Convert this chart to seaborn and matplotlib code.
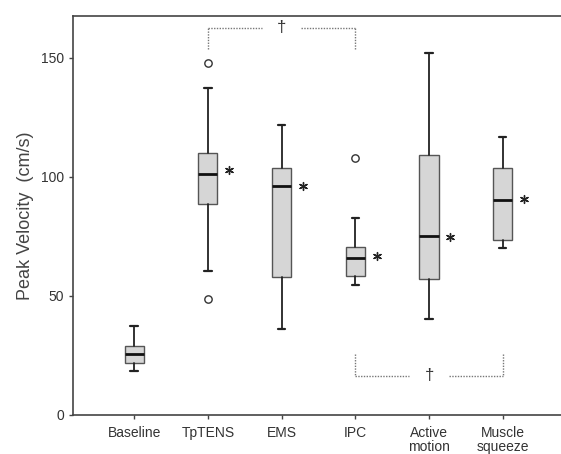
import matplotlib
matplotlib.use("Agg")
import matplotlib.pyplot as plt
import seaborn as sns
import pandas as pd

# five-number summaries (cm/s)
groups = ["Baseline", "TpTENS", "EMS", "IPC", "Active\nmotion", "Muscle\nsqueeze"]
whis_lo = [18.5, 60.6, 36.1, 54.6, 40.3, 70.0]
q1 = [22.0, 88.7, 57.9, 58.4, 57.1, 73.5]
median = [25.6, 101.3, 96.3, 65.8, 75.2, 90.3]
q3 = [29.0, 110.2, 103.6, 70.7, 109.1, 103.6]
whis_hi = [37.5, 137.3, 121.8, 82.6, 152.0, 116.7]

# outliers (group index, value)
outlier_grp = [1, 1, 3]
outlier_val = [147.8, 48.6, 108.1]

# means shown as asterisks next to the boxes
mean_grp = [1, 2, 3, 4, 5]
mean_val = [103.0, 96.3, 66.9, 74.9, 90.6]

# significance brackets: (from group, to group, bracket level, leg end)
brackets = [(1, 3, 162.6, 153.8), (3, 5, 16.5, 25.6)]

sns.set_style("white")
plt.rcParams["font.family"] = ["Liberation Sans", "DejaVu Sans"]

fig = plt.figure(figsize=(5.61, 4.54), dpi=100)
ax = fig.add_axes([0.130, 0.086, 0.870, 0.879])

stats = []
for i, g in enumerate(groups):
    stats.append({"label": g, "whislo": whis_lo[i], "q1": q1[i], "med": median[i],
                  "q3": q3[i], "whishi": whis_hi[i], "fliers": []})

ax.bxp(stats, positions=range(len(groups)), widths=0.26, patch_artist=True,
       showfliers=False, capwidths=0.1,
       boxprops=dict(facecolor="#d6d6d6", edgecolor="#555555", linewidth=1.0),
       medianprops=dict(color="#111111", linewidth=2.0),
       whiskerprops=dict(color="#222222", linewidth=1.3),
       capprops=dict(color="#222222", linewidth=1.6))

out_df = pd.DataFrame({"x": outlier_grp, "y": outlier_val})
sns.scatterplot(data=out_df, x="x", y="y", ax=ax, marker="o", s=28,
                facecolor="white", edgecolor="#333333", linewidth=1.0, zorder=4)

mean_df = pd.DataFrame({"x": [g + 0.29 for g in mean_grp], "y": mean_val})
sns.scatterplot(data=mean_df, x="x", y="y", ax=ax, marker=(6, 2, 0), s=32,
                color="#222222", linewidth=1.0, zorder=4)

for a, b, level, leg in brackets:
    mid = (a + b) / 2
    kw = dict(color="#777777", linewidth=1.0, linestyle=(0, (1, 1)))
    ax.plot([a, a], [leg, level], **kw)
    ax.plot([a, mid - 0.27], [level, level], **kw)
    ax.plot([mid + 0.27, b], [level, level], **kw)
    ax.plot([b, b], [leg, level], **kw)
    ax.text(mid, level, "\u2020", ha="center", va="center", fontsize=12,
            color="#333333")

ax.set_xlim(-0.83, 5.79)
ax.set_ylim(0, 167.6)
ax.set_yticks([0, 50, 100, 150])
ax.set_xticks(range(len(groups)))
ax.set_xticklabels(groups, fontsize=10, color="#333333", linespacing=0.95)
ax.tick_params(axis="y", labelsize=10, labelcolor="#333333", length=3,
               width=1.0, color="#444444", left=True)
ax.tick_params(axis="x", length=3, width=1.0, color="#444444", bottom=True, pad=5)
ax.set_xlabel("")
ax.set_ylabel("Peak Velocity  (cm/s)", fontsize=13, color="#444444", labelpad=5)

for side in ["left", "bottom", "top"]:
    ax.spines[side].set_color("#444444")
    ax.spines[side].set_linewidth(1.2)
ax.spines["right"].set_visible(False)

fig.savefig("out.png", dpi=100)
